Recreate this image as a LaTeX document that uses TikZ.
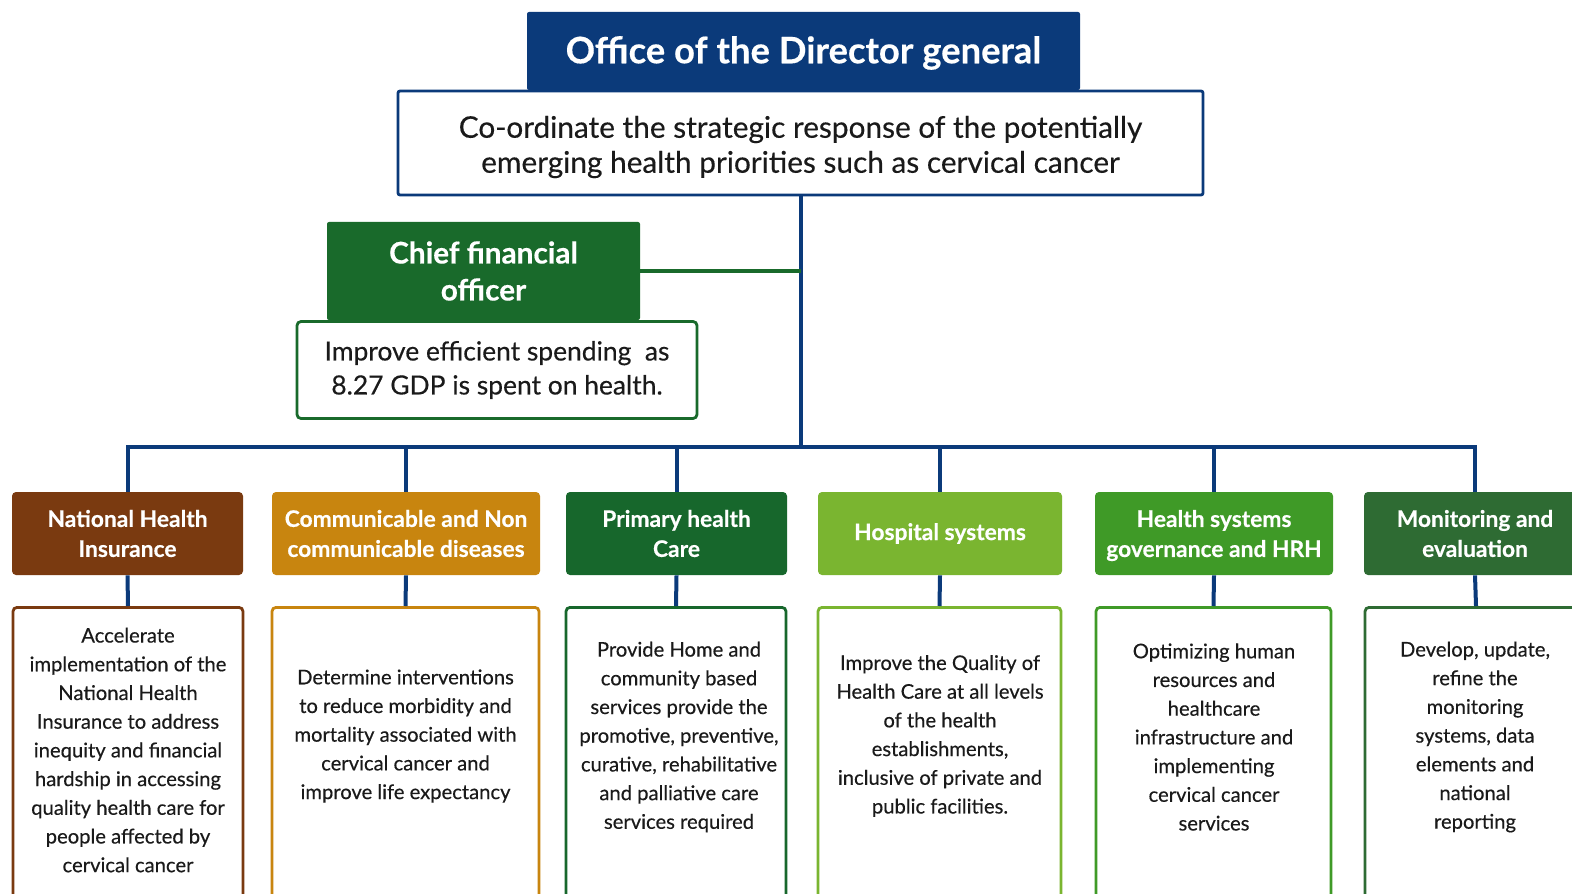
\documentclass[tikz,border=0pt]{standalone}
\usepackage{fontspec}
\setmainfont{Lato}[UprightFeatures={FakeBold=0.35}, BoldFeatures={FakeBold=0.4}]
\definecolor{navy}{HTML}{0B3A7A}
\definecolor{nhibrown}{HTML}{7A3A10}
\definecolor{cdgold}{HTML}{C8850F}
\definecolor{phcgreen}{HTML}{17672C}
\definecolor{hosgreen}{HTML}{7AB530}
\definecolor{hsgreen}{HTML}{3F9A27}
\definecolor{megreen}{HTML}{2E6B33}
\definecolor{cfogreen}{HTML}{196A2B}
\definecolor{ink}{HTML}{1A1A1A}
\newcommand{\nodesc}[1]{\raisebox{0pt}[\height][0pt]{#1}}
\begin{document}
\begin{tikzpicture}[x=0.5pt,y=-0.5pt,
  sz/.style 2 args={minimum width=#1*0.5pt, minimum height=#2*0.5pt},
  hdr/.style={rectangle, rounded corners=2pt, fill=#1, text=white, align=center,
    inner sep=0pt, font=\bfseries\fontsize{11.4}{15}\selectfont},
  descbox/.style={rectangle, rounded corners=2pt, draw=#1, line width=1.4pt, fill=white, inner sep=0pt},
  desctxt/.style={align=center, text=ink, inner sep=0pt, font=\fontsize{10.1}{14.35}\selectfont},
  link/.style={draw=navy, line width=2pt},
]
\useasboundingbox (0,0) rectangle (1572,893);
\fill[white] (0,0) rectangle (1572,893);

% top of the structure
\node[hdr=navy, rounded corners=1pt, sz={553}{78}, font=\bfseries\fontsize{18.2}{22}\selectfont] (dir) at (803.5,51) {};
\node[text=white, font=\bfseries\fontsize{18.2}{22}\selectfont, inner sep=0pt] (dirtxt) at (803.5,53) {Office of the Director general};
\node[rectangle, draw=navy, line width=1.4pt, fill=white, rounded corners=1pt, sz={805}{104}] (coord) at (800.5,143) {};
\node[align=center, text=ink, inner sep=0pt, font=\fontsize{14.9}{17.5}\selectfont] (coordtxt) at (800.5,147)
  {Co-ordinate the strategic response of the potentially\\emerging health priorities such as cervical cancer};

% finance branch
\node[hdr=cfogreen, rounded corners=1pt, sz={313}{98}, font=\bfseries\fontsize{14.9}{18.5}\selectfont] (cfo) at (483.5,271) {Chief financial\\officer};
\node[descbox=cfogreen, sz={400}{97}, align=center, text=ink, font=\fontsize{13.2}{17}\selectfont] (cfod) at (497,370)
  {Improve efficient spending\ \ as\\8.27 GDP is spent on health.};

% departments
\node[hdr=nhibrown, sz={231}{83}] (h1) at (127.5,533.5) {National Health\\Insurance};
\node[hdr=cdgold,   sz={268}{83}] (h2) at (406,533.5) {Communicable and Non\\communicable diseases};
\node[hdr=phcgreen, sz={221}{83}] (h3) at (676.5,533.5) {Primary health\\Care};
\node[hdr=hosgreen, sz={244}{83}] (h4) at (940,533.5) {Hospital systems};
\node[hdr=hsgreen,  sz={238}{83}] (h5) at (1214,533.5) {Health systems\\\nodesc{governance and HRH}};
\node[hdr=megreen,  sz={222}{83}] (h6) at (1475,533.5) {Monitoring and\\evaluation};

% department remits (boxes run past the lower edge)
\node[descbox=nhibrown, sz={230}{320}, anchor=north] (d1) at (128,606) {};
\node[descbox=cdgold,   sz={267}{320}, anchor=north] (d2) at (405.5,606) {};
\node[descbox=phcgreen, sz={220}{320}, anchor=north] (d3) at (676,606) {};
\node[descbox=hosgreen, sz={243}{320}, anchor=north] (d4) at (939.5,606) {};
\node[descbox=hsgreen,  sz={235}{320}, anchor=north] (d5) at (1213.5,606) {};
\node[descbox=megreen,  sz={222}{320}, anchor=north] (d6) at (1476,606) {};

\node[desctxt] (t1) at (128,750) {Accelerate\\implementation of the\\National Health\\Insurance to address\\inequity and financial\\hardship in accessing\\quality health care for\\people affected by\\cervical cancer};
\node[desctxt] (t2) at (405.5,736) {Determine interventions\\to reduce morbidity and\\mortality associated with\\cervical cancer and\\improve life expectancy};
\node[desctxt] (t3) at (679,737) {Provide Home and\\community based\\services provide the\\promotive, preventive,\\curative, rehabilitative\\and palliative care\\services required};
\node[desctxt] (t4) at (940,736) {Improve the Quality of\\Health Care at all levels\\of the health\\establishments,\\inclusive of private and\\public facilities.};
\node[desctxt] (t5) at (1214,737) {Optimizing human\\resources and\\healthcare\\infrastructure and\\implementing\\cervical cancer\\services};
\node[desctxt] (t6) at (1475,737) {Develop, update,\\refine the\\monitoring\\systems, data\\elements and\\national\\reporting};

% connectors
\coordinate (bus) at (801,447);
\draw[link] (coord.south -| bus) -- (bus);
\draw[draw=cfogreen, line width=2pt] (cfo.east) -- (cfo.east -| bus);
\foreach \i in {1,...,6} {
  \draw[link] (bus) -| (h\i.north);
  \draw[link] (h\i.south) -- (d\i.north);
}
\end{tikzpicture}
\end{document}
